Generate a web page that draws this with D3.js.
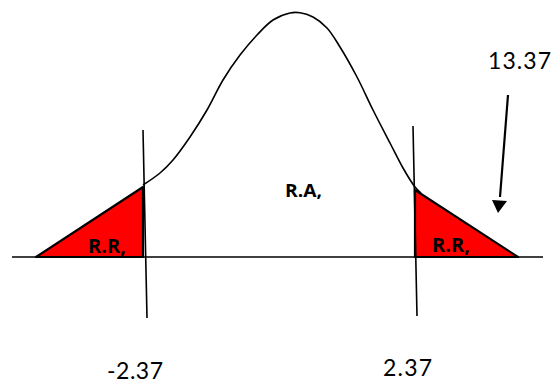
<!DOCTYPE html>
<html><head><meta charset="utf-8">
<script src="https://cdn.jsdelivr.net/npm/d3@7"></script>
<style>html,body{margin:0;padding:0;background:#fff;}svg{display:block;}</style>
</head><body>
<svg id="c" width="553" height="383"></svg>
<script>
// Sketch-space values: horizontal position (x) and height above the baseline (h)
const curveX = [143,160,173,190,207,223,240,257,273,290,300,313,327,340,357,373,390,403,415,421];
const curveH = [72,84,97,120,147,177,202,222,237,244,244.3,240,229,210,180,147,114,89,70,64];
const leftRegionX = [36,143,143];
const leftRegionH = [0,70,0];
const rightRegionX = [415,518,415];
const rightRegionH = [67,0,0];
const critTopX = [143,413];
const critBotX = [147,417];
const critTopH = [127,131];
const critBotH = [-61,-59];
const critLabels = ["-2.37","2.37"];
const regionLabels = ["R.R,","R.A,","R.R,"];
const statLabel = ["13.37"];

const svg = d3.select("#c");
const x = d3.scaleLinear().domain([0,553]).range([0,553]);
const y = d3.scaleLinear().domain([0,257]).range([257,0]);

// baseline axis
svg.append("line").attr("x1",x(12)).attr("x2",x(543)).attr("y1",y(0)).attr("y2",y(0))
  .attr("stroke","#000").attr("stroke-width",1.6);

// rejection regions
const poly = (xs,hs)=> xs.map((v,i)=>[x(v),y(hs[i])]);
[[leftRegionX,leftRegionH],[rightRegionX,rightRegionH]].forEach(([xs,hs])=>{
  svg.append("path").attr("d", d3.line()(poly(xs,hs))+"Z")
    .attr("fill","#ff0000").attr("stroke","#000").attr("stroke-width",2.2).attr("stroke-linejoin","round");
});

// curve
svg.append("path").datum(curveX.map((v,i)=>[v,curveH[i]]))
  .attr("d", d3.line().x(d=>x(d[0])).y(d=>y(d[1])).curve(d3.curveCatmullRom))
  .attr("fill","none").attr("stroke","#000").attr("stroke-width",1.6);

// critical lines
critTopX.forEach((v,i)=>{
  svg.append("line").attr("x1",x(v)).attr("y1",y(critTopH[i])).attr("x2",x(critBotX[i])).attr("y2",y(critBotH[i]))
    .attr("stroke","#000").attr("stroke-width",1.6);
});

// arrow
svg.append("line").attr("x1",x(508)).attr("y1",y(162)).attr("x2",x(500)).attr("y2",y(60))
  .attr("stroke","#000").attr("stroke-width",2.2);
svg.append("path").attr("d", d3.line()([[x(492),y(57)],[x(507),y(56)],[x(498),y(44)]])+"Z").attr("fill","#000");

const font = "Lato, 'Open Sans', sans-serif";
// critical value labels
const critLabelX = [107,383], critLabelH = [-122,-119], critLabelW=[56,49];
critLabels.forEach((t,i)=>{
  svg.append("text").attr("x",x(critLabelX[i])).attr("y",y(critLabelH[i])).text(t)
    .attr("font-family",font).attr("font-size",23).attr("textLength",critLabelW[i]).attr("fill","#000");
});
// statistic label
svg.append("text").attr("x",x(488)).attr("y",y(188)).text(statLabel[0])
  .attr("font-family",font).attr("font-size",23).attr("textLength",63).attr("fill","#000");
// region labels
const regX=[88,285,432], regH=[4,60,5], regW=[38,37,38], regS=[20,18,20];
regionLabels.forEach((t,i)=>{
  svg.append("text").attr("x",x(regX[i])).attr("y",y(regH[i])).text(t)
    .attr("font-family","'Open Sans', sans-serif").attr("font-weight","bold").attr("font-size",regS[i])
    .attr("textLength",regW[i]).attr("lengthAdjust","spacingAndGlyphs").attr("fill","#000");
});
</script>
</body></html>
